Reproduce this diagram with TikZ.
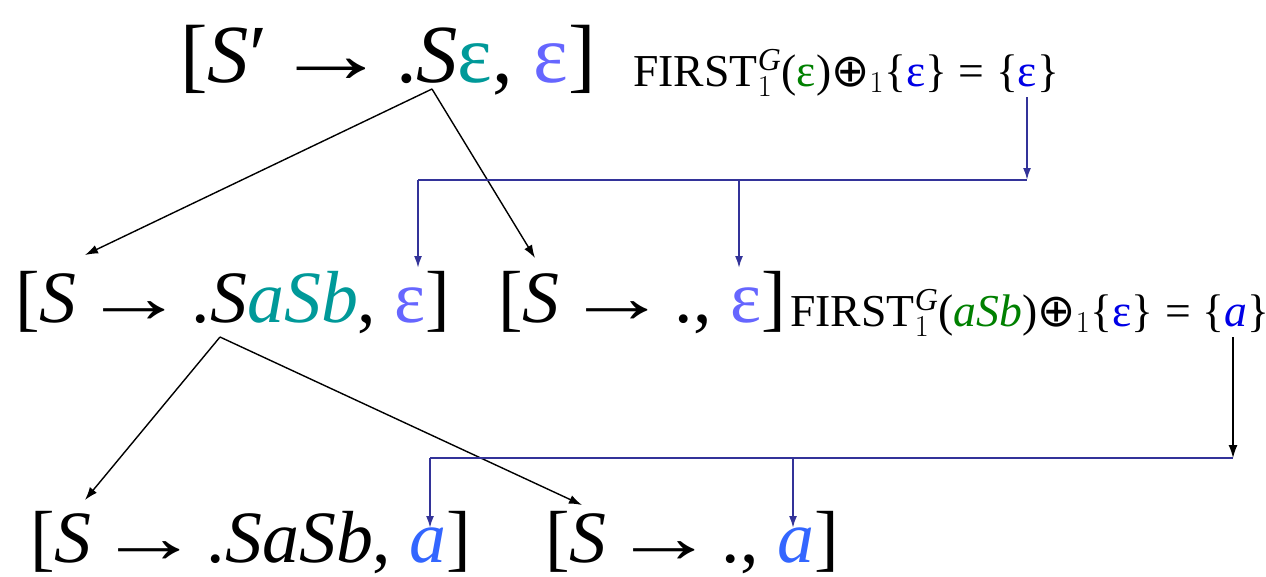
\documentclass[tikz,border=0pt]{standalone}
\usepackage{fontspec}
\setmainfont{Liberation Serif}
\newfontfamily\symf{DejaVu Sans}
\usetikzlibrary{arrows.meta}

\definecolor{tealc}{RGB}{0,153,153}
\definecolor{lav}{RGB}{102,102,255}
\definecolor{lblue}{RGB}{51,102,255}
\definecolor{dgreen}{RGB}{0,128,0}
\definecolor{pblue}{RGB}{0,0,230}
\definecolor{navy}{RGB}{51,51,153}

\newcommand{\iv}[1]{\textit{#1}}
\newcommand{\ar}{\hspace{0.08em}\scalebox{1.4}[1]{→}\hspace{0.08em}}
\newcommand{\fst}{FIRST$^{\mathit{G}}_{1}$}
\newcommand{\opl}{{\symf ⊕}$_1$}

\begin{document}
\begin{tikzpicture}[x=0.02cm, y=-0.02cm,
   item/.style={anchor=base west, inner sep=0pt, font=\fontsize{42}{50}\selectfont},
   big/.style={item, font=\fontsize{47}{56}\selectfont},
   rule/.style={anchor=base west, inner sep=0pt, font=\fontsize{26}{30}\selectfont},
   tree/.style={-{Latex[length=2.6mm, width=1.8mm]}, black, line width=0.8pt},
   look/.style={navy, line width=1.1pt},
   lookto/.style={look, -{Latex[length=2.4mm, width=1.6mm]}}]
  \useasboundingbox (0,0) rectangle (1266,576);

  % items
  \node[big]  (top)  at (180,82)  {[\iv{S}′\ar.\iv{S}\textcolor{tealc}{ε}, \textcolor{lav}{ε}]};
  \node[item] (l2)   at (15,322)  {[\iv{S}\ar.\iv{S}\textcolor{tealc}{\iv{aSb}}, \textcolor{lav}{ε}]};
  \node[item] (r2)   at (498,322) {[\iv{S}\ar., \textcolor{lav}{ε}]};
  \node[item] (l3)   at (30,562)  {[\iv{S}\ar.\iv{SaSb}, \textcolor{lblue}{\iv{a}}]};
  \node[item] (r3)   at (545,562) {[\iv{S}\ar., \textcolor{lblue}{\iv{a}}]};

  % lookaheads
  \node[rule] (f1) at (633,86)  {\fst(\textcolor{dgreen}{ε})\opl\{\textcolor{pblue}{ε}\} = \{\textcolor{pblue}{ε}\}};
  \node[rule] (f2) at (790,326) {\fst(\textcolor{dgreen}{\iv{aSb}})\opl\{\textcolor{pblue}{ε}\} = \{\textcolor{pblue}{\iv{a}}\}};

  \coordinate (p1) at (432,89);
  \coordinate (p2) at (220,337);
  \coordinate (l2t) at (85,255);
  \coordinate (r2t) at (535,258);
  \coordinate (l3t) at (85,500);
  \coordinate (r3t) at (582,505);
  \coordinate (s1) at (1027,97);
  \coordinate (b1) at (418,180);
  \coordinate (m1) at (739,180);
  \coordinate (e1) at (1027,180);
  \coordinate (b1t) at (418,268);
  \coordinate (m1t) at (739,268);
  \coordinate (s2) at (1233,337);
  \coordinate (b2) at (430,458);
  \coordinate (m2) at (793,458);
  \coordinate (e2) at (1233,458);
  \coordinate (b2t) at (430,528);
  \coordinate (m2t) at (793,528);

  \draw[tree] (p1) -- (l2t);
  \draw[tree] (p1) -- (r2t);
  \draw[tree] (p2) -- (l3t);
  \draw[tree] (p2) -- (r3t);

  \draw[lookto] (s1) -- (e1);
  \draw[look] (b1) -- (e1);
  \draw[lookto] (b1) -- (b1t);
  \draw[lookto] (m1) -- (m1t);

  \draw[tree] (s2) -- (e2);
  \draw[look] (b2) -- (e2);
  \draw[lookto] (b2) -- (b2t);
  \draw[lookto] (m2) -- (m2t);
\end{tikzpicture}
\end{document}
